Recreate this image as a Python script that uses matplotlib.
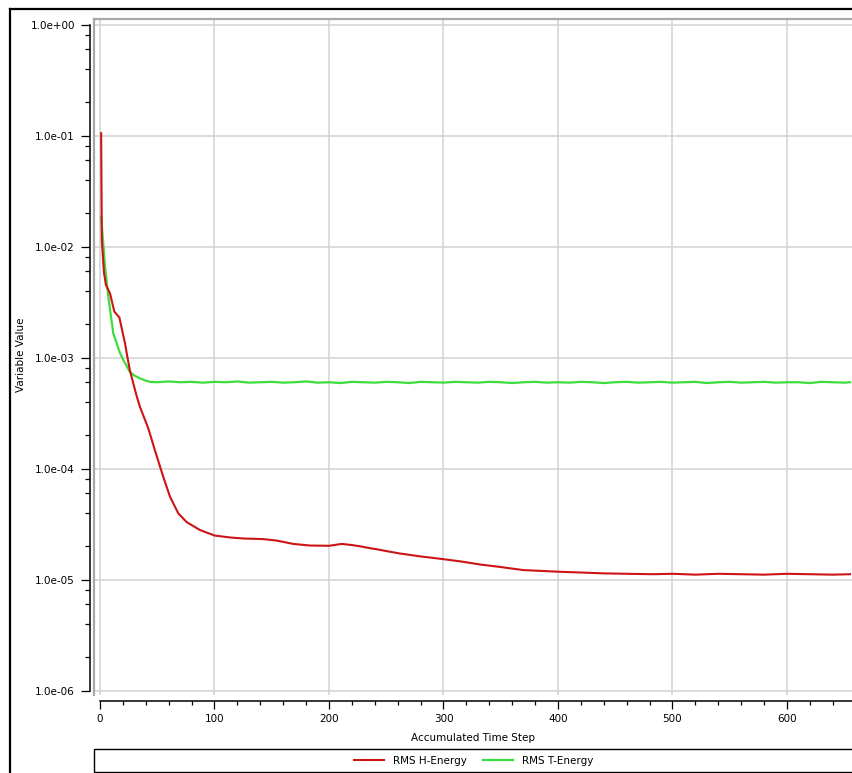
import matplotlib
matplotlib.use("Agg")
import matplotlib.pyplot as plt
from matplotlib.lines import Line2D
from matplotlib.patches import Rectangle
from matplotlib.ticker import FixedLocator, MultipleLocator, LogLocator, NullFormatter

# ---------------- data ----------------
h_steps = [1, 1.6, 2.9, 3.5, 5.2, 8.7, 12.5, 16.9, 21.8, 24, 26.2, 32, 34.9, 42.2,
           48, 55.3, 61.1, 68.4, 75.7, 87.3, 100, 113.5, 125, 142.6, 154.3,
           168.8, 183.4, 200.3, 211.1, 220, 227, 236, 243, 250, 262, 280, 300,
           315, 332, 350, 369.7, 385, 399.7, 420, 439.6, 460, 483, 500, 520,
           540, 560, 580, 600, 620, 640, 655]
h_energy = [1.05e-1, 1.14e-2, 7.1e-3, 5.8e-3, 4.5e-3, 3.8e-3, 2.6e-3, 2.3e-3, 1.35e-3,
            1.0e-3, 7.6e-4, 4.5e-4, 3.6e-4, 2.3e-4,
            1.46e-4, 8.4e-5, 5.6e-5, 3.95e-5, 3.3e-5, 2.8e-5, 2.5e-5, 2.4e-5, 2.35e-5,
            2.32e-5, 2.25e-5,
            2.1e-5, 2.03e-5, 2.02e-5, 2.1e-5, 2.05e-5, 2.0e-5, 1.92e-5, 1.87e-5, 1.81e-5,
            1.72e-5, 1.62e-5, 1.53e-5,
            1.46e-5, 1.37e-5, 1.3e-5, 1.22e-5, 1.2e-5, 1.18e-5, 1.16e-5, 1.14e-5, 1.13e-5,
            1.12e-5, 1.13e-5, 1.11e-5,
            1.13e-5, 1.12e-5, 1.11e-5, 1.13e-5, 1.12e-5, 1.11e-5, 1.12e-5]

t_steps = [1, 4.4, 7.3, 11.6, 14.6, 17.5, 20.4, 26.2, 30, 34.9, 40, 43.7, 50, 60, 70,
           80, 90, 100, 110, 120, 130, 140, 150, 160, 170, 180, 190, 200, 210, 220,
           230, 240, 250, 260, 270, 280, 290, 300, 310, 320, 330, 340, 350, 360, 370,
           380, 390, 400, 410, 420, 430, 440, 450, 460, 470, 480, 490, 500, 510, 520,
           530, 540, 550, 560, 570, 580, 590, 600, 610, 620, 630, 640, 650, 655]
t_energy = [1.86e-2, 6.6e-3, 3.5e-3, 1.65e-3, 1.34e-3, 1.1e-3, 9.5e-4, 7.4e-4, 6.9e-4,
            6.5e-4, 6.2e-4, 6.05e-4, 6.0e-4, 6.1e-4, 6.0e-4,
            6.05e-4, 5.95e-4, 6.05e-4, 6.0e-4, 6.1e-4, 5.95e-4, 6.0e-4, 6.05e-4, 5.95e-4,
            6.0e-4, 6.1e-4, 5.95e-4, 6.0e-4, 5.9e-4, 6.05e-4,
            6.0e-4, 5.95e-4, 6.05e-4, 6.0e-4, 5.9e-4, 6.05e-4, 6.0e-4, 5.95e-4, 6.05e-4,
            6.0e-4, 5.95e-4, 6.05e-4, 6.0e-4, 5.9e-4, 6.0e-4,
            6.05e-4, 5.95e-4, 6.0e-4, 5.95e-4, 6.05e-4, 6.0e-4, 5.9e-4, 6.0e-4, 6.05e-4,
            5.95e-4, 6.0e-4, 6.05e-4, 5.95e-4, 6.0e-4, 6.05e-4,
            5.9e-4, 6.0e-4, 6.05e-4, 5.95e-4, 6.0e-4, 6.05e-4, 5.95e-4, 6.0e-4, 6.0e-4,
            5.9e-4, 6.05e-4, 6.0e-4, 5.95e-4, 6.0e-4]

series_names = ["RMS H-Energy", "RMS T-Energy"]
series_colors = ["#cc1414", "#3ddc3d"]

y_major = [1e0, 1e-1, 1e-2, 1e-3, 1e-4, 1e-5, 1e-6]
y_labels = ["1.0e+00", "1.0e-01", "1.0e-02", "1.0e-03", "1.0e-04", "1.0e-05", "1.0e-06"]
x_major = [0, 100, 200, 300, 400, 500, 600]
x_labels = ["0", "100", "200", "300", "400", "500", "600"]
x_title = "Accumulated Time Step"
y_title = "Variable Value"

# ---------------- figure ----------------
W, H = 853, 773
fig = plt.figure(figsize=(W / 100, H / 100), dpi=100)
plt.rcParams['font.family'] = ['DejaVu Sans']
FS = 7.5


def fx(px):
    return px / W


def fy(py):
    return 1 - py / H


ax_left, ax_top, ax_bottom, ax_right = 94.3, 19.3, 695.0, 870.0
ax = fig.add_axes([fx(ax_left), fy(ax_bottom), (ax_right - ax_left) / W, (ax_bottom - ax_top) / H])
ax.set_yscale("log")
ax.set_xlim(-4.98, 672.5)
ax.set_ylim(0.915e-6, 1.114)

# gridlines
for v in y_major:
    ax.axhline(v, color="#d2d2d2", lw=1.1, zorder=0)
for v in x_major:
    ax.axvline(v, color="#d2d2d2", lw=1.1, zorder=0)

# gray frame of plot area (left and top edges)
ax.plot([0, 0], [0, 1], transform=ax.transAxes, color="#a8a8a8", lw=1.6, clip_on=False, zorder=1)
ax.plot([0, 1], [1, 1], transform=ax.transAxes, color="#a8a8a8", lw=1.6, clip_on=False, zorder=1)

l1, = ax.plot(h_steps, h_energy, color=series_colors[0], lw=1.5, zorder=3, label=series_names[0])
l2, = ax.plot(t_steps, t_energy, color=series_colors[1], lw=1.6, zorder=2, label=series_names[1])

# spines
for s in ["top", "right"]:
    ax.spines[s].set_visible(False)
ax.spines["left"].set_position(("outward", 4.3 * 0.72))
ax.spines["bottom"].set_position(("outward", 6 * 0.72))
ax.spines["left"].set_bounds(1e-6, 1.0)
ax.spines["bottom"].set_bounds(0, 672.5)
for s in ["left", "bottom"]:
    ax.spines[s].set_visible(True)
    ax.spines[s].set_linewidth(1.1)
    ax.spines[s].set_color("black")
    ax.spines[s].set_zorder(5)

ax.yaxis.set_major_locator(FixedLocator(y_major))
ax.set_yticklabels(y_labels)
ax.yaxis.set_minor_locator(LogLocator(base=10, subs=[2, 4, 6, 8]))
ax.yaxis.set_minor_formatter(NullFormatter())
ax.xaxis.set_major_locator(FixedLocator(x_major))
ax.set_xticklabels(x_labels)
ax.xaxis.set_minor_locator(MultipleLocator(20))

ax.tick_params(axis="y", which="major", length=6.5, width=0.9, pad=4.3, labelsize=FS, colors="black")
ax.tick_params(axis="y", which="minor", length=3.6, width=0.9, colors="black")
ax.tick_params(axis="x", which="major", length=5.8, width=0.9, pad=3.2, labelsize=FS, colors="black")
ax.tick_params(axis="x", which="minor", length=2.9, width=0.9, colors="black")

# axis titles
fig.text(fx(20.7), fy(355), y_title, rotation=90, ha="center", va="center", fontsize=FS)
fig.text(fx(473), fy(738), x_title, ha="center", va="center", fontsize=FS)

# outer black frame
fig.add_artist(Line2D([fx(10.5), fx(10.5)], [fy(9.3), fy(780)], color="black", lw=1.6,
                      transform=fig.transFigure))
fig.add_artist(Line2D([fx(10.5), fx(860)], [fy(9.3), fy(9.3)], color="black", lw=1.6,
                      transform=fig.transFigure))

# legend box
fig.add_artist(Rectangle((fx(94.3), fy(772)), (870 - 94.3) / W, (772 - 749) / H,
                         transform=fig.transFigure, fill=False, edgecolor="black", lw=1.0))
fig.legend(handles=[l1, l2], loc="center", bbox_to_anchor=(fx(473.5), fy(761)), ncol=2,
           frameon=False, fontsize=FS, handlelength=2.9, handletextpad=0.8,
           columnspacing=1.6, borderaxespad=0, borderpad=0)

fig.savefig("out.png", dpi=100)
